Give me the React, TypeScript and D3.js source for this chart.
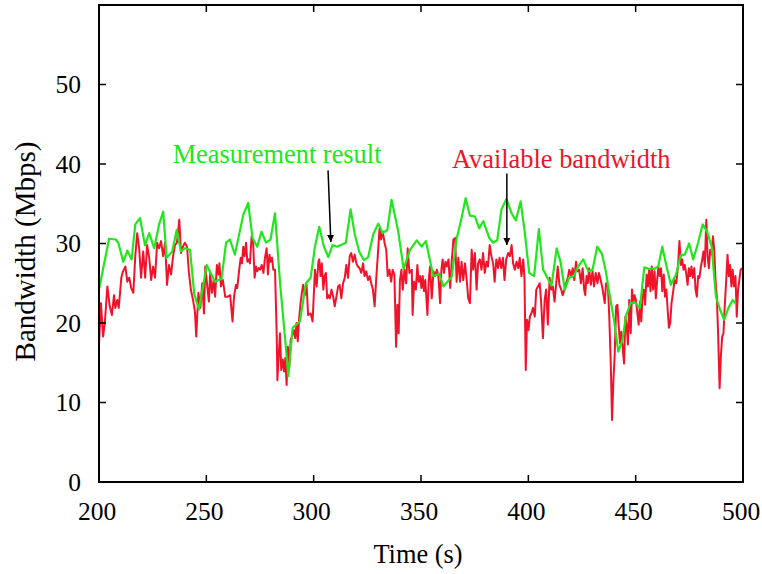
import React from "react";
import * as d3 from "d3";

const xTicks = [200, 250, 300, 350, 400, 450, 500];
const yTicks = [0, 10, 20, 30, 40, 50];

const measTime = [200,204.7,207.8,209,211.3,213.2,215.2,216.9,219.1,221.4,223.4,225.7,228,229.9,231.5,234.1,236.2,238.2,240,242.4,244.4,246.6,250.2,254,257.1,259.2,261,263.3,267.2,269.5,271.5,273.7,275.7,277.8,279.9,282,284.3,286.6,288.2,290.2,293.6,296.4,298.6,300.6,302.6,304.8,306.8,308.8,311,315,317.2,319.2,321.2,323.4,325.4,327.8,330.1,332.1,334.3,336.3,339.4,341.9,344.9,348,350.3,352.3,355.7,358.5,360.4,364.3,366.6,368.9,370.8,372.8,375.1,377.1,379,381.8,383.6,385.5,387.5,389.8,392.2,394.2,396.4,398.4,400.4,402.7,404.9,406.9,410.8,413.2,415,417,419,421.2,423.2,425.6,427.9,429.9,432.1,434.3,436.1,438,439.9,441.9,443.9,445.5,447.6,449.6,452,454,456.3,458.5,460.5,462.4,464.4,466.4,468.8,470.9,472.9,474.9,476.8,479.1,481.2,483.3,485.4,487.4,489.3,491.2,493.2,495.2,496.6];
const measValue = [24.2,30.6,30.5,30.1,27.7,29.1,28.0,32.4,33.2,29.8,31.3,29.4,32.4,34.0,28.2,29.0,31.7,29.0,29.4,29.2,23.6,21.7,27.3,25.2,25.6,30.1,30.5,28.6,33.6,35.1,30.7,29.6,31.5,30.1,30.5,33.8,25.2,18.3,13.3,19.4,20.2,25.0,25.7,29.6,32.1,29.6,28.3,29.8,29.6,30.1,34.3,31.1,29.0,27.9,28.3,31.2,32.5,31.3,31.7,35.5,31.5,26.8,29.2,30.4,29.6,30.3,25.9,26.2,24.6,25.8,30.6,33.2,35.7,33.5,33.4,31.9,32.8,30.7,30.1,30.4,34.3,35.6,33.8,32.9,35.3,31.3,26.3,25.9,31.8,26.7,24.7,29.4,27.7,24.2,25.7,25.9,27.1,28.0,26.5,26.7,29.6,28.7,26.5,23.3,20.4,16.4,17.9,20.9,22.5,22.6,21.9,27.0,26.8,26.8,27.1,29.6,27.1,24.8,26.1,28.5,28.6,30.0,28.0,30.1,32.4,31.5,29.6,23.3,21.7,20.4,21.9,22.9,22.4];

const availTime = [200,200.9,201.9,202.7,203.9,205,206,207,207.6,208.5,209.2,210.4,211.2,212.3,213.2,214.1,215,216,216.9,217.8,218.7,219.6,220.6,221.5,222.4,223.4,224.3,225.2,226.1,227.1,228,228.9,229.9,230.8,231.7,232.6,233.6,234.5,235.4,236.3,237.4,238.2,239.1,240,241,241.9,242.8,243.8,244.7,245.3,246.3,247.2,248.1,248.9,249.5,250.6,251.2,251.8,252.6,253.4,254.1,254.9,255.7,256.1,256.8,257.7,258.8,259.8,261.1,262.2,262.9,263.8,264.4,265.4,266,266.6,267.2,267.8,268.5,269.1,269.7,270.3,271.1,271.8,272.5,273.1,273.7,274.4,275,275.8,276.6,277.3,278.1,278.7,279.4,280,280.6,281.2,282,282.8,283.1,283.7,284.3,284.9,285.6,286.2,286.8,287.4,288,288.7,289.3,289.9,290.8,291.4,292,292.6,293.3,293.9,294.5,295.1,295.9,296.7,297.4,298.6,299.5,300.6,301.4,302.2,302.6,303.2,303.8,304.5,305.1,305.7,306.3,306.9,307.5,308.3,309.1,309.8,310.6,311.4,312.1,312.9,313.7,314.5,315.2,316,316.8,317.5,318.3,319.1,319.9,320.6,321.4,322.2,323,323.7,324.5,325.3,326.1,326.8,327.6,328.4,329.1,329.9,330.7,331.4,332.2,333,333.8,334.5,335.3,336.1,336.8,337.6,338.4,339,339.6,340.2,340.9,341.5,342.3,343.1,343.8,344.6,345.7,346.1,346.8,347.6,348.3,348.9,349.6,350.2,350.8,351.4,352,353,353.6,354.2,355,355.8,356.6,357.4,358.1,358.9,359.5,360.1,360.7,361.4,362,362.8,363.6,364.3,365.1,365.9,366.6,367.4,368.2,368.9,369.7,370.5,371.3,372,372.8,373.6,374.3,375.1,375.9,376.6,377.4,378.2,378.9,379.7,380.5,381.2,382,382.8,383.6,384.3,385.1,385.9,386.6,387.4,388.2,388.9,389.7,390.6,391.4,392.2,392.9,393.7,394.5,395.3,396,396.8,397.6,398.2,398.8,399.4,400.1,400.7,401.4,402.2,403,403.7,404.5,405.3,406,406.8,407.6,408.3,409.1,409.9,410.7,411.4,412.2,413,413.7,414.5,415.3,416,416.8,417.6,418.4,419.1,419.9,420.7,421.4,422.2,423,423.7,424.5,425.3,426,426.5,427.1,427.7,428.3,429.1,429.9,430.6,431.4,432.2,432.9,433.7,434.5,435.6,436.2,437.1,437.7,438.4,439,439.6,440.2,440.9,441.5,442.1,442.7,443.3,443.9,444.6,445.2,445.8,446.4,447,447.7,448.3,448.9,449.5,450.1,450.8,451.4,452,452.6,453.2,453.8,454.4,455.1,455.7,456.3,456.9,457.5,458.1,458.8,459.4,460,460.6,461.2,461.8,462.4,463.1,463.7,464.3,464.9,465.5,466.1,466.7,467.4,468.1,468.9,469.7,470.4,471.1,471.7,472.3,472.9,473.5,474.2,474.8,475.4,476,476.6,477.3,477.9,478.5,479.1,479.7,480.4,481,481.6,482.2,482.9,483.5,484.1,484.7,485.4,486,486.6,487.2,487.8,488.4,489.1,489.7,490.3,490.9,491.5,492.1,492.8,493.4,494,494.6,495.2,495.8,496.5,497.1,497.7,498.3,498.9,499.6];
const availValue = [17.3,22.5,18.3,20.0,24.6,22.1,21.0,23.5,21.9,22.9,21.9,25.7,26.5,27.1,25.2,25.7,24.4,23.8,28.4,31.3,29.4,25.7,29.0,25.7,29.8,28.2,25.4,27.1,25.7,30.1,29.4,30.3,28.4,30.1,24.8,27.3,26.1,28.4,29.8,30.1,33.0,28.8,29.6,30.1,29.6,26.3,24.2,22.9,21.4,18.3,23.8,21.9,25.0,21.2,27.1,24.2,22.7,26.3,23.8,25.4,23.3,27.3,26.1,27.5,24.6,25.4,23.3,23.3,23.5,20.2,23.3,24.8,24.4,26.9,28.2,27.5,29.6,28.4,30.1,27.7,28.0,27.5,30.9,30.1,25.7,27.1,26.5,26.9,26.7,27.3,26.3,28.2,29.4,26.1,28.6,27.7,28.2,26.7,26.7,18.3,12.8,15.8,18.7,14.1,15.4,13.9,15.6,12.2,17.0,14.5,17.9,18.3,19.1,18.1,20.0,17.7,20.8,22.5,23.8,24.8,23.5,24.8,21.0,21.2,20.2,26.7,24.6,27.7,28.0,25.9,27.5,24.2,25.9,26.3,23.1,23.5,23.1,24.2,23.3,22.1,23.3,24.6,24.8,23.1,25.0,25.7,27.3,25.7,28.4,28.8,27.7,28.6,27.5,27.1,26.9,26.3,27.5,25.9,26.5,25.4,25.9,25.0,24.2,22.1,25.4,28.6,31.9,30.5,31.5,30.1,29.2,25.9,26.7,25.2,26.7,26.1,17.0,22.3,18.7,25.4,26.7,24.2,26.7,25.0,29.4,26.3,26.7,21.0,25.2,24.2,27.3,25.2,25.9,24.4,25.9,24.0,25.4,21.0,25.4,27.1,23.1,26.5,25.9,26.7,25.9,22.5,26.7,28.0,26.3,27.7,27.1,28.0,24.4,27.7,30.5,30.7,25.2,28.2,25.2,27.7,25.4,27.5,25.4,23.1,22.5,29.2,26.7,28.8,24.2,27.5,28.0,26.7,28.8,26.3,27.7,27.1,29.8,28.4,27.5,25.2,28.0,26.9,28.2,26.9,28.2,25.4,28.0,28.8,28.4,29.8,27.5,26.7,27.7,26.9,28.2,25.9,28.0,25.7,14.1,20.4,19.1,20.8,21.2,21.9,20.8,24.2,24.6,25.0,22.5,18.1,22.9,24.2,19.8,25.7,24.2,24.6,22.7,25.0,27.1,24.8,24.2,23.5,24.2,25.0,25.7,26.7,25.9,26.9,25.4,27.7,26.5,26.7,25.0,26.9,24.2,23.5,25.9,25.0,26.9,24.8,26.5,24.6,26.3,25.0,26.3,25.4,24.4,22.5,25.0,24.6,20.8,14.9,7.8,12.6,15.8,22.1,22.3,19.6,17.5,18.9,17.0,14.9,20.8,19.6,17.3,22.9,18.7,24.2,22.5,23.5,22.9,21.2,19.8,22.7,20.2,23.3,24.2,22.3,26.1,24.6,26.7,24.0,27.1,24.2,26.5,23.1,25.4,27.1,25.9,26.9,24.0,26.1,23.3,24.2,21.7,19.4,20.0,22.5,23.8,25.4,25.0,27.1,30.3,27.3,28.0,26.7,27.3,26.3,24.8,26.9,25.9,27.1,25.7,26.9,24.2,23.3,25.9,25.7,27.1,28.0,29.0,27.1,33.0,28.4,26.9,29.2,28.6,30.9,29.2,25.4,23.3,18.7,11.8,15.8,18.3,18.7,22.1,25.0,28.6,25.9,27.3,24.6,26.7,24.6,25.9,20.8,24.2,25.4,26.7,26.9];

const labelText = ["Measurement result", "Available bandwidth"];
const labelTime = [234.3, 364.4];
const labelValue = [40.1, 39.5];
const arrowFromTime = [306.7, 390];
const arrowFromValue = [39.2, 38.8];
const arrowToTime = [308, 390];
const arrowToValue = [30.2, 29.8];

const W = 762, H = 574;
const M = { left: 99, right: 19, top: 5, bottom: 92 };
const GREEN = "#22e61c";
const RED = "#f0142a";
const FONT = "'Liberation Serif', 'Times New Roman', serif";

export default function App() {
  const x = d3.scaleLinear().domain([200, 500]).range([M.left, W - M.right]);
  const y = d3.scaleLinear().domain([0, 60]).range([H - M.bottom, M.top]);
  const line = d3.line<[number, number]>().x(d => x(d[0])).y(d => y(d[1]));
  const meas = measTime.map((t, i) => [t, measValue[i]] as [number, number]);
  const avail = availTime.map((t, i) => [t, availValue[i]] as [number, number]);
  const x0 = x(200), x1 = x(500), y0 = y(0), y1 = y(60);
  const tk = 7;
  const colors = [GREEN, RED];
  return (
    <svg width={W} height={H} style={{ position: "absolute", left: 0, top: 0, background: "#fff" }} fontFamily={FONT}>
      <defs>
        <marker id="ah" viewBox="0 0 10 10" refX="10" refY="5" markerWidth="7" markerHeight="8" markerUnits="userSpaceOnUse" orient="auto">
          <path d="M0,0 L10,5 L0,10 Z" fill="#000" />
        </marker>
      </defs>
      <path d={line(avail) || ""} fill="none" stroke={RED} strokeWidth={2} strokeLinejoin="round" />
      <path d={line(meas) || ""} fill="none" stroke={GREEN} strokeWidth={2.2} strokeLinejoin="round" />
      {xTicks.map(t => (
        <g key={"x" + t}>
          <line x1={x(t)} x2={x(t)} y1={y0} y2={y0 - tk} stroke="#000" strokeWidth={1.5} />
          <line x1={x(t)} x2={x(t)} y1={y1} y2={y1 + tk} stroke="#000" strokeWidth={1.5} />
          <text x={x(t) - 2} y={520} textAnchor="middle" fontSize={25.5}>{t}</text>
        </g>
      ))}
      {yTicks.map(v => (
        <g key={"y" + v}>
          <line x1={x0} x2={x0 + tk} y1={y(v)} y2={y(v)} stroke="#000" strokeWidth={1.5} />
          <line x1={x1} x2={x1 - tk} y1={y(v)} y2={y(v)} stroke="#000" strokeWidth={1.5} />
          <text x={81} y={y(v)} dy="0.35em" textAnchor="end" fontSize={25.5}>{v}</text>
        </g>
      ))}
      <rect x={x0} y={y1} width={x1 - x0} height={y0 - y1} fill="none" stroke="#000" strokeWidth={2} />
      {labelText.map((s, i) => (
        <text key={s} x={x(labelTime[i])} y={y(labelValue[i])} fill={colors[i]} fontSize={26.4}>{s}</text>
      ))}
      {arrowFromTime.map((t, i) => (
        <line key={"a" + i} x1={x(t)} y1={y(arrowFromValue[i])} x2={x(arrowToTime[i])} y2={y(arrowToValue[i])} stroke="#000" strokeWidth={1.5} markerEnd="url(#ah)" />
      ))}
      <text x={418} y={563} textAnchor="middle" fontSize={26.4}>Time (s)</text>
      <text transform={`translate(35, 251.5) rotate(-90)`} textAnchor="middle" fontSize={29}>Bandwidth (Mbps)</text>
    </svg>
  );
}
